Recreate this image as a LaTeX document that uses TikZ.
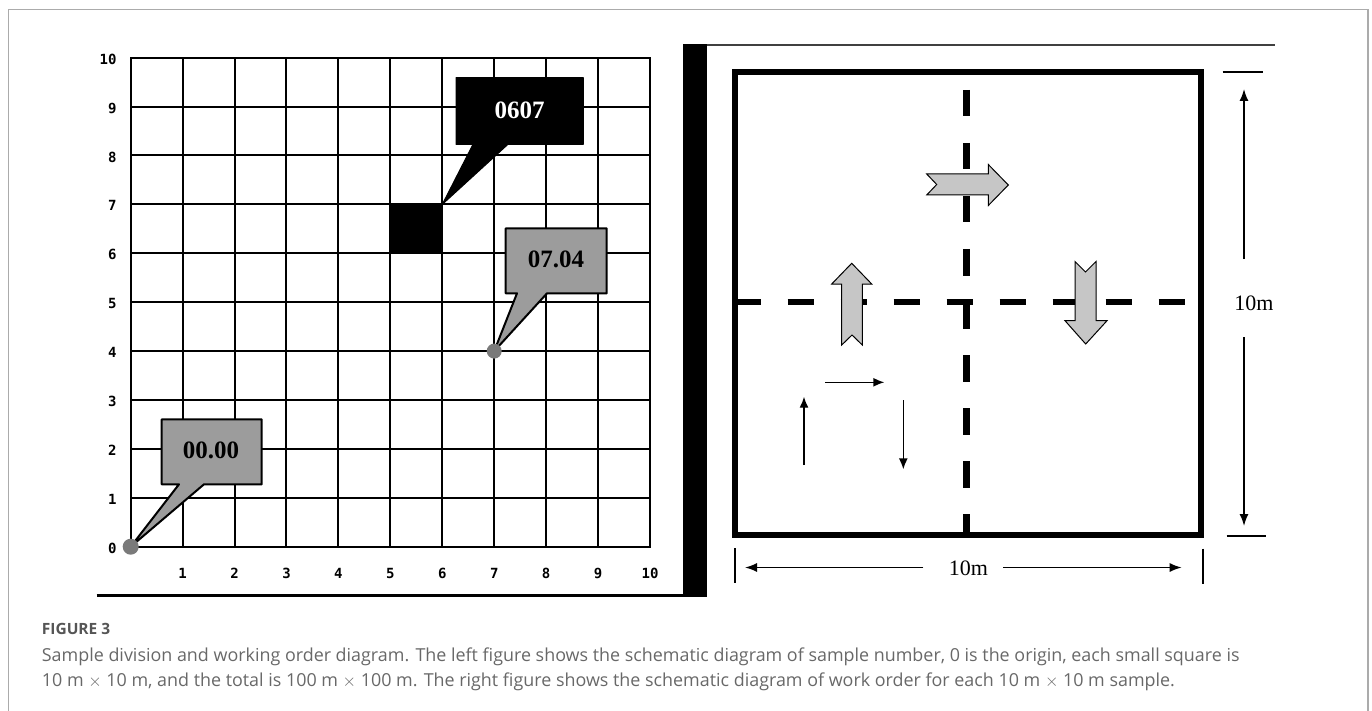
\documentclass[tikz,border=0pt]{standalone}
\usepackage{fontspec}
\setmainfont{Liberation Serif}
\newfontfamily\capfont{Open Sans}
\newfontfamily\axisfont{DejaVu Sans Mono}
\usetikzlibrary{arrows.meta}

\definecolor{framegray}{HTML}{ABABAB}
\definecolor{boxgray}{HTML}{9C9C9C}
\definecolor{arrowgray}{HTML}{C6C6C6}
\definecolor{dotgray}{HTML}{7A7A7A}
\definecolor{captext}{HTML}{686868}
\definecolor{caphead}{HTML}{555555}

\begin{document}
\begin{tikzpicture}[x=1pt,y=-1pt,
  gridline/.style={line width=2pt, black, line cap=rect},
  axislabel/.style={font=\axisfont\bfseries\fontsize{14}{14}\selectfont, inner sep=0pt},
  callout/.style={draw=black, line width=2pt, line join=round},
  calltext/.style={font=\bfseries\fontsize{25}{25}\selectfont, inner sep=0pt},
  blockarrow/.style={fill=arrowgray, draw=black, line width=1pt, line join=miter},
  thinarrow/.style={line width=1.4pt, -{Latex[length=11pt,width=9pt]}},
  dimline/.style={line width=1.5pt, -{Latex[length=12pt,width=9pt]}},
  dimtick/.style={line width=1.8pt},
  dashline/.style={line width=6.5pt, dash pattern=on 26pt off 27pt},
  dimtext/.style={font=\fontsize{22}{22}\selectfont, inner sep=0pt},
  captionhead/.style={anchor=base west, inner sep=0pt, text=caphead,
    font=\capfont\bfseries\fontsize{15.5}{15.5}\selectfont},
  captionline/.style={anchor=base west, inner sep=0pt, text=captext,
    font=\capfont\fontsize{17.9}{17.9}\selectfont}
]
\useasboundingbox (0,0) rectangle (1372,711);

% page frame
\draw[framegray, line width=1.2pt] (8.3,711) -- (8.3,9.3) -- (1368,9.3) -- (1368,711);

% ---------------- left panel: numbered grid ----------------
\begin{scope}[shift={(130.7pt,-546.7pt)}, x=51.93pt, y=48.9pt]
  \foreach \i in {0,...,10} {
    \draw[gridline] (\i,0) -- (\i,10);
    \draw[gridline] (0,\i) -- (10,\i);
  }
  \foreach \k in {0,...,10}
    \node[axislabel, anchor=east] (ylab\k) at (-0.27,\k-0.03) {\k};
  \foreach \k in {1,...,10}
    \node[axislabel] (xlab\k) at (\k,-0.54) {\k};
  \fill[black] (5,6) rectangle (6,7);
  \coordinate (p00) at (0,0);
  \coordinate (p67) at (6,7);
  \coordinate (p74) at (7,4);
\end{scope}

% callouts
\filldraw[black, line width=1pt, line join=round]
  (456,77.7) -- (583.3,77.7) -- (583.3,144.3) -- (508,144.3) -- (p67)
  -- (473,144.3) -- (456,144.3) -- cycle;
\node[calltext, text=white] (c0607) at (519.7,110) {0607};

\filldraw[callout, fill=boxgray]
  (505.7,228.3) -- (606.7,228.3) -- (606.7,293.3) -- (547,293.3) -- (p74)
  -- (517,293.3) -- (505.7,293.3) -- cycle;
\node[calltext] (c0704) at (556,259) {07.04};

\filldraw[callout, fill=boxgray]
  (161.7,419.3) -- (261.7,419.3) -- (261.7,484.3) -- (204,484.3) -- (p00)
  -- (179,484.3) -- (161.7,484.3) -- cycle;
\node[calltext] (c0000) at (211,450) {00.00};

\fill[dotgray] (p00) circle (8pt);
\fill[dotgray] (p74) circle (7.5pt);

% panel separators
\draw[line width=3pt] (96.7,595.5) -- (683,595.5);
\fill[black] (683,44) rectangle (707,597);
\draw[line width=1.3pt, black!75] (707,45) -- (1275,45);

% ---------------- right panel: work order ----------------
% arrow crossing the vertical divider (drawn below it)
\filldraw[blockarrow] (926.7,174) -- (988.3,174) -- (988.3,164.5) -- (1008.3,185)
  -- (988.3,205.5) -- (988.3,195) -- (926.7,195) -- (936.7,184.5) -- cycle;

% quadrant dividers
\draw[dashline] (734.5,302) -- (1201,302);
\draw[dashline, dash pattern=on 26.5pt off 26.5pt] (966.7,90) -- (966.7,535);

% plot outline
\draw[line width=6pt] (734.5,72) rectangle (1201,535);

% up and down block arrows
\filldraw[blockarrow] (851.7,263.3) -- (871.7,284) -- (862.3,284) -- (862.3,345)
  -- (852,335) -- (841.7,345) -- (841.7,284) -- (831.7,284) -- cycle;
\filldraw[blockarrow] (1075,261.5) -- (1085.5,272) -- (1096,261.5) -- (1096,320.7)
  -- (1107,320.7) -- (1085.7,344) -- (1065,320.7) -- (1075,320.7) -- cycle;

% order of walking inside one quadrant
\coordinate (wUpA) at (804,465);   \coordinate (wUpB) at (804,396.7);
\coordinate (wRtA) at (825,382.3); \coordinate (wRtB) at (884.3,382.3);
\coordinate (wDnA) at (903.3,400); \coordinate (wDnB) at (903.3,469.3);
\draw[thinarrow] (wUpA) -- (wUpB);
\draw[thinarrow] (wRtA) -- (wRtB);
\draw[thinarrow] (wDnA) -- (wDnB);

% horizontal dimension
\node[dimtext] (dimB) at (968.3,568) {10m};
\coordinate (bTickL1) at (735,548.3);    \coordinate (bTickL2) at (735,583.3);
\coordinate (bTickR1) at (1202.7,548.5); \coordinate (bTickR2) at (1202.7,583.7);
\coordinate (bArrL0) at (923.3,567.5);   \coordinate (bArrL1) at (745,567.5);
\coordinate (bArrR0) at (1003,567.5);    \coordinate (bArrR1) at (1181.7,567.5);
\draw[dimtick] (bTickL1) -- (bTickL2);
\draw[dimtick] (bTickR1) -- (bTickR2);
\draw[dimline] (bArrL0) -- (bArrL1);
\draw[dimline] (bArrR0) -- (bArrR1);

% vertical dimension
\node[dimtext] (dimR) at (1254,303) {10m};
\coordinate (rTickT1) at (1222.7,72);  \coordinate (rTickT2) at (1262.7,72);
\coordinate (rTickB1) at (1226.7,536); \coordinate (rTickB2) at (1266,536);
\coordinate (rArrT0) at (1244,259);    \coordinate (rArrT1) at (1244,89);
\coordinate (rArrB0) at (1244,337);    \coordinate (rArrB1) at (1244,526);
\draw[dimtick] (rTickT1) -- (rTickT2);
\draw[dimtick] (rTickB1) -- (rTickB2);
\draw[dimline] (rArrT0) -- (rArrT1);
\draw[dimline] (rArrB0) -- (rArrB1);

% ---------------- caption ----------------
\node[captionhead] (fighead) at (41.7,634.7) {FIGURE 3};
\node[captionline] (capA) at (41.7,661.7) {Sample division and working order diagram. The left figure shows the schematic diagram of sample number, 0 is the origin, each small square is};
\node[captionline] (capB) at (41.7,686) {10 m $\times$ 10 m, and the total is 100 m $\times$ 100 m. The right figure shows the schematic diagram of work order for each 10 m $\times$ 10 m sample.};
\end{tikzpicture}
\end{document}
